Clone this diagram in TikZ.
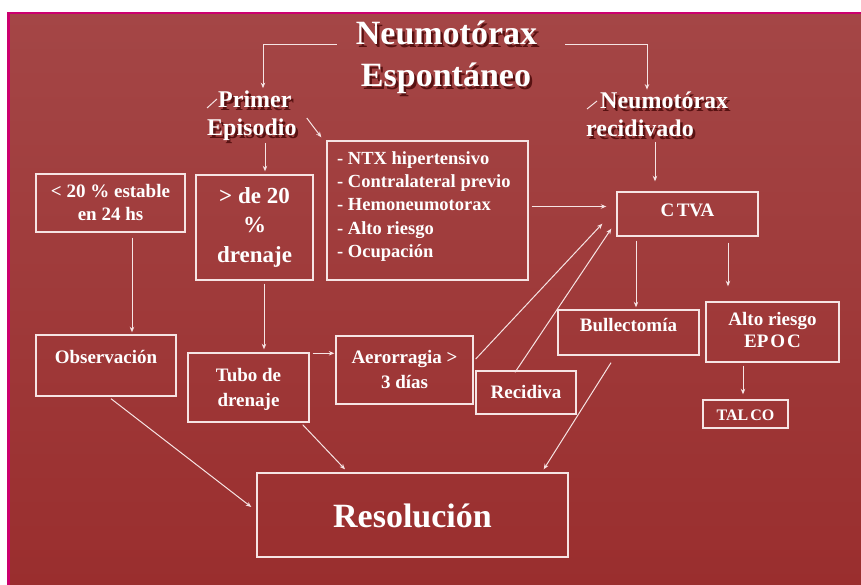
\documentclass[tikz,border=0pt]{standalone}
\usepackage{fontspec}
\setmainfont{Liberation Serif}
\usetikzlibrary{arrows.meta,calc}
\definecolor{bgtop}{RGB}{164,70,70}
\definecolor{bgbot}{RGB}{154,46,46}
\definecolor{mag}{RGB}{204,0,110}
\definecolor{ln}{RGB}{246,228,228}
\definecolor{shd}{RGB}{88,18,18}
\begin{document}
\begin{tikzpicture}[x=1pt,y=-1pt,
  box/.style={draw=ln, line width=1.4pt, inner sep=0pt},
  tl/.style={text=white, anchor=base, inner sep=0pt, font=\bfseries\fontsize{19}{23}\selectfont},
  tll/.style={tl, anchor=base west, font=\bfseries\fontsize{18.5}{23}\selectfont},
  ttl/.style={text=white, inner sep=0pt, font=\bfseries\fontsize{34}{40}\selectfont},
  ttls/.style={ttl, text=shd},
  hdr/.style={text=white, anchor=base west, inner sep=0pt, font=\bfseries\fontsize{24}{28}\selectfont},
  hdrs/.style={hdr, text=shd},
  arr/.style={draw=ln, line width=1pt, -{Stealth[length=5.5pt,width=4.5pt]}},
  tick/.style={draw=ln, line width=1pt}
]
\useasboundingbox (0,0) rectangle (861,585);
\fill[white] (0,0) rectangle (861,585);
\shade[top color=bgtop, bottom color=bgbot] (8.5,13) rectangle (861,585);
\draw[mag, line width=2.5pt] (8.5,585) -- (8.5,13) -- (861,13);

% title
\node[ttls, anchor=base] (t1s) at (449,47.5) {Neumotórax};
\node[ttl, anchor=base] (t1) at (446.5,45) {Neumotórax};
\node[ttls, anchor=base] (t2s) at (448.5,89.5) {Espontáneo};
\node[ttl, anchor=base] (t2) at (446,87) {Espontáneo};

% headers
\node[hdrs] (p1s) at (220.5,110.5) {Primer};
\node[hdr] (p1) at (218,108) {Primer};
\node[hdrs] (p2s) at (209.5,138.5) {Episodio};
\node[hdr] (p2) at (207,136) {Episodio};
\node[hdrs] (r1s) at (602.5,111.5) {Neumotórax};
\node[hdr] (r1) at (600,109) {Neumotórax};
\node[hdrs] (r2s) at (588.5,139.5) {recidivado};
\node[hdr] (r2) at (586,137) {recidivado};
\draw[tick] ([xshift=-11pt]p1.base west) -- ([xshift=-1pt,yshift=9pt]p1.base west);
\draw[tick] ([xshift=-13pt]r1.base west) -- ([xshift=-3pt,yshift=8pt]r1.base west);

% boxes
\node[box, minimum width=149pt, minimum height=58pt] (lt20) at (110.5,203) {};
\node[tl] (lt20a) at (110.5,198) {< 20 \% estable};
\node[tl] (lt20b) at (110.5,221) {en 24 hs};

\node[box, minimum width=117pt, minimum height=105pt] (gt20) at (254.5,227.5) {};
\node[tl, font=\bfseries\fontsize{23}{28}\selectfont] (gt20a) at (254.5,204) {> de 20};
\node[tl, font=\bfseries\fontsize{23}{28}\selectfont] (gt20b) at (254.5,233) {\%};
\node[tl, font=\bfseries\fontsize{23}{28}\selectfont] (gt20c) at (254.5,262) {drenaje};

\node[box, minimum width=201pt, minimum height=139pt] (ntx) at (427.5,210.5) {};
\node[tll] (ntxa) at (337,165) {- NTX hipertensivo};
\node[tll] (ntxb) at (337,188) {- Contralateral previo};
\node[tll] (ntxc) at (337,211) {- Hemoneumotorax};
\node[tll] (ntxd) at (337,234) {- Alto riesgo};
\node[tll] (ntxe) at (337,257) {- Ocupación};

\node[box, minimum width=141pt, minimum height=44pt] (ctva) at (687.5,214) {};
\node[tl] (ctvat) at (687.5,217) {C\kern2.5pt TVA};

\node[box, minimum width=141pt, minimum height=45pt] (bull) at (628.5,332.5) {};
\node[tl] (bullt) at (628.5,331) {Bullectomía};

\node[box, minimum width=133pt, minimum height=60pt] (alto) at (772.5,332) {};
\node[tl] (altoa) at (772.5,325) {Alto riesgo};
\node[tl] (altob) at (772.5,347) {EP\kern2pt O\kern2pt C};

\node[box, minimum width=85pt, minimum height=28pt] (talco) at (745.5,414) {};
\node[tl, font=\bfseries\fontsize{16}{20}\selectfont] (talcot) at (745.5,420) {TAL\kern2pt CO};

\node[box, minimum width=140pt, minimum height=61pt] (obs) at (106,365.5) {};
\node[tl] (obst) at (106,363) {Observación};

\node[box, minimum width=121pt, minimum height=69pt] (tubo) at (248.5,387.5) {};
\node[tl] (tuboa) at (248.5,381) {Tubo de};
\node[tl] (tubob) at (248.5,406) {drenaje};

\node[box, minimum width=137pt, minimum height=68pt] (aero) at (404.5,370) {};
\node[tl] (aeroa) at (404.5,363) {Aerorragia >};
\node[tl] (aerob) at (404.5,388) {3 días};

\node[box, minimum width=100pt, minimum height=43pt] (recv) at (526,392.5) {};
\node[tl] (recvt) at (526,398) {Recidiva};

\node[box, minimum width=311pt, minimum height=84pt] (res) at (412.5,515) {};
\node[tl, font=\bfseries\fontsize{34}{40}\selectfont] (rest) at (412.5,527) {Resolución};

% connectors
\draw[arr] ([xshift=-19pt]t1.base west) -| ([xshift=45pt,yshift=3pt]p1.north west);
\draw[arr] ([xshift=28pt]t1.base east) -| ([xshift=47pt,yshift=2.5pt]r1.north west);
\draw[arr] ([xshift=10pt,yshift=18pt]p2.base east) -- ([xshift=-5pt,yshift=3pt]ntx.north west);
\draw[arr, shorten >=3pt] ([xshift=58pt,yshift=-7pt]p2.base west) -- ([xshift=58pt]p2.base west |- gt20.north);
\draw[arr, shorten >=10pt] ([xshift=69pt,yshift=-5pt]r2.base west) -- ([xshift=69pt]r2.base west |- ctva.north);
\draw[arr, shorten >=2pt] ([xshift=21.5pt,yshift=-5pt]lt20.south) -- ([xshift=21.5pt]lt20.south |- obs.north);
\draw[arr, shorten >=3pt] ([xshift=9.5pt,yshift=-3pt]gt20.south) -- ([xshift=9.5pt]gt20.south |- tubo.north);
\draw[arr, shorten >=1pt] ([xshift=3pt,yshift=-1pt]tubo.north east) -- ([yshift=-1pt]tubo.north east -| aero.west);
\draw[arr, shorten >=10pt, shorten <=3pt] ([yshift=4pt]ntx.east) -- ([yshift=4pt]ntx.east -| ctva.west);
\draw[arr] ([xshift=2pt,yshift=11pt]aero.east) -- ([xshift=-14pt,yshift=13pt]ctva.south west);
\draw[arr] ([xshift=-11pt,yshift=-2pt]recv.north) -- ([xshift=-5pt,yshift=8pt]ctva.south west);
\draw[arr, shorten >=2pt] ([xshift=-51.5pt,yshift=-4pt]ctva.south) -- ([xshift=-51.5pt]ctva.south |- bull.north);
\draw[arr, shorten >=15pt] ([xshift=40.5pt,yshift=-6pt]ctva.south) -- ([xshift=40.5pt]ctva.south |- alto.north);
\draw[arr, shorten >=5pt] ([xshift=-29.5pt,yshift=-3pt]alto.south) -- ([xshift=-29.5pt]alto.south |- talco.north);
\draw[arr] ([xshift=5pt,yshift=-2pt]obs.south) -- ([xshift=-5pt,yshift=8pt]res.west);
\draw[arr] ([xshift=-7pt,yshift=-2pt]tubo.south east) -- ([xshift=-67.5pt,yshift=3pt]res.north);
\draw[arr] ([xshift=-17.5pt,yshift=-7pt]bull.south) -- ([xshift=-25pt,yshift=3pt]res.north east);
\end{tikzpicture}
\end{document}
